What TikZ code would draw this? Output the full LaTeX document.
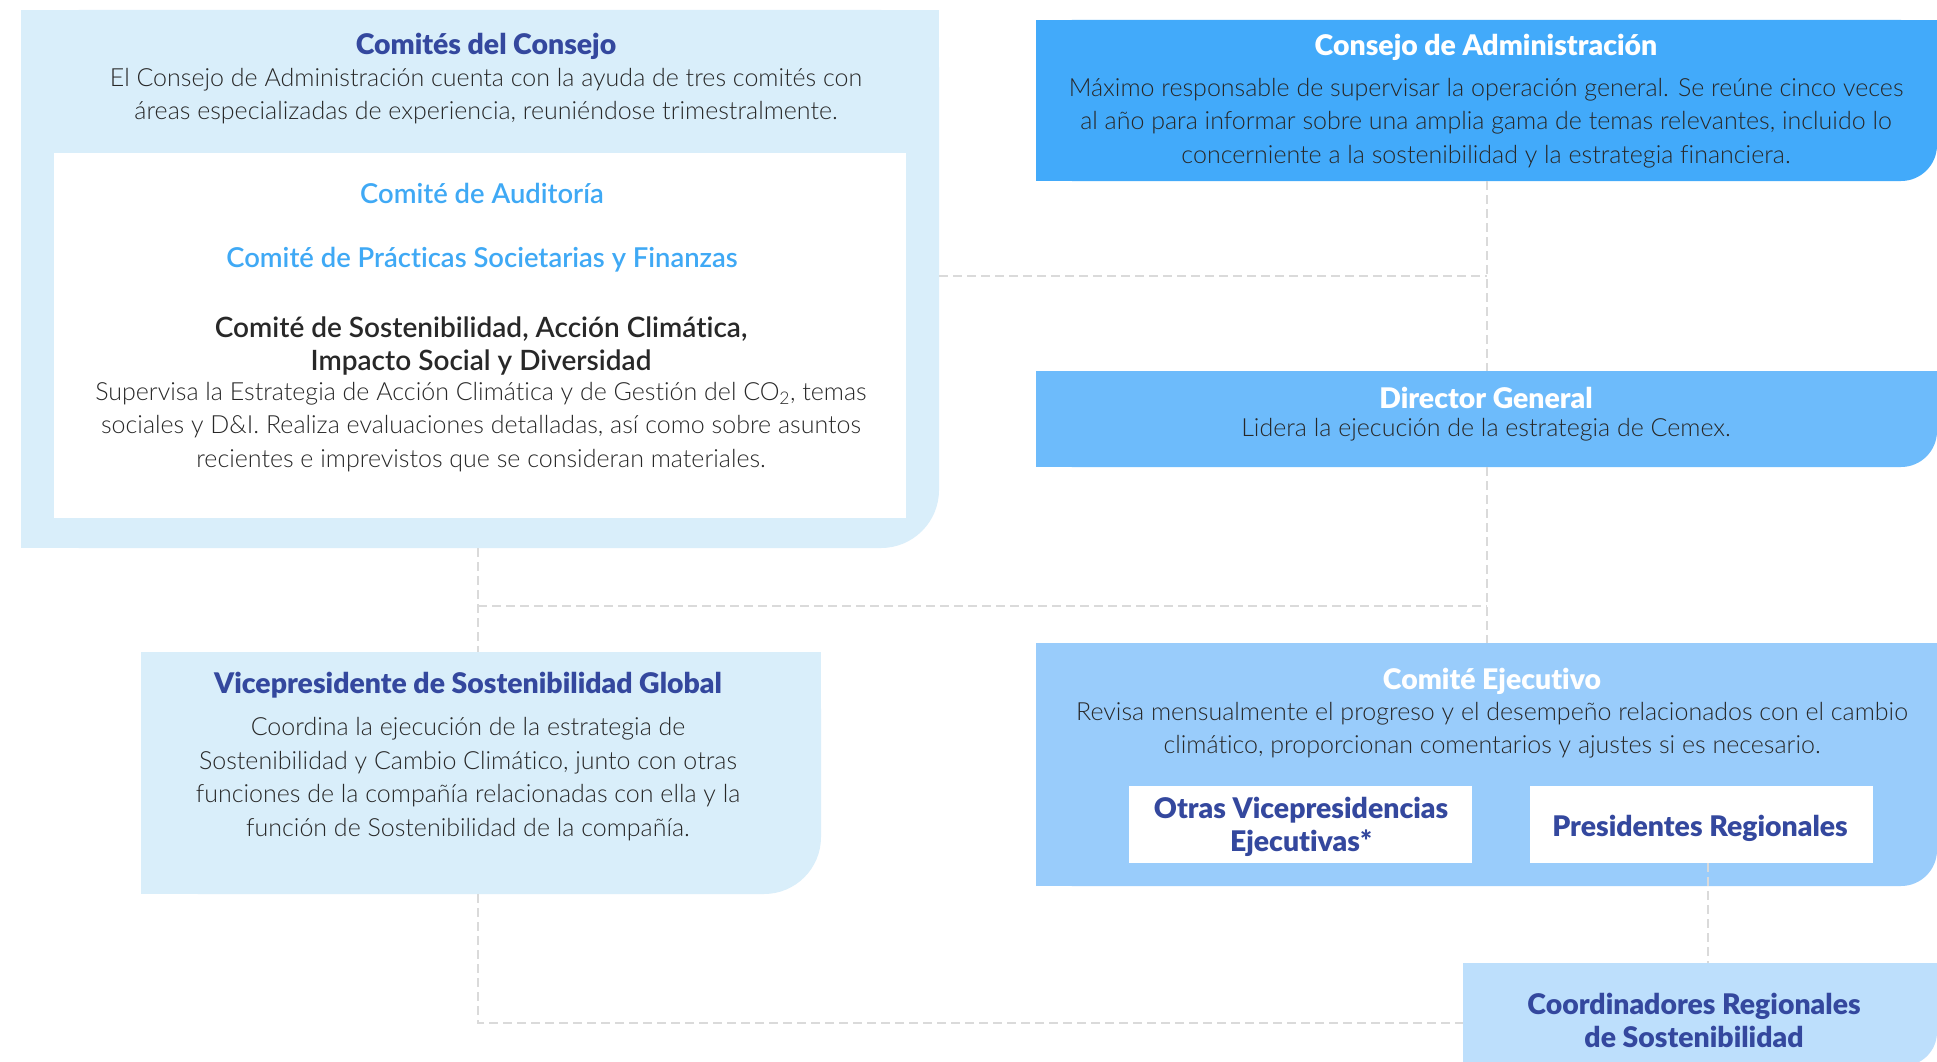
\documentclass[tikz,border=0pt]{standalone}
\usepackage{fontspec}
\setmainfont{Lato Light}[BoldFont={Lato Black},Ligatures=NoCommon]
\newfontfamily\semibfont{Lato Semibold}[Ligatures=NoCommon]
\definecolor{boxpale}{RGB}{217,238,250}
\definecolor{boxdeep}{RGB}{66,170,250}
\definecolor{boxmid}{RGB}{109,187,251}
\definecolor{boxlight}{RGB}{153,204,251}
\definecolor{boxcoord}{RGB}{189,223,252}
\definecolor{titleblue}{RGB}{52,72,158}
\definecolor{subblue}{RGB}{63,169,245}
\definecolor{bodygray}{RGB}{40,40,40}
\definecolor{dashgray}{RGB}{218,218,218}
\newcommand\rfill[3]{%
  \fill[#2,rounded corners=#3] (#1.north west) rectangle (#1.south east);
  \fill[#2] (#1.north west) rectangle ([xshift=-#3]#1.south east);
  \fill[#2] (#1.north west) rectangle ([yshift=#3]#1.south east);}
\begin{document}
\begin{tikzpicture}[x=1pt,y=-1pt,
  boxn/.style={draw=none,inner sep=0pt,outer sep=0pt,anchor=north west},
  titleB/.style={font=\fontsize{28.4}{33}\selectfont\bfseries,align=center,inner sep=0pt},
  bodyT/.style={font=\fontsize{25}{33.5}\selectfont,align=center,inner sep=0pt,text=bodygray},
  subT/.style={font=\fontsize{27.4}{33.5}\selectfont\semibfont,align=center,inner sep=0pt},
  dashline/.style={draw=dashgray,line width=2pt,dash pattern=on 9pt off 5pt}]
\useasboundingbox (0,0) rectangle (1937,1062);
\clip (0,0) rectangle (1937,1062);
\fill[white] (0,0) rectangle (1937,1062);

% boxes
\node[boxn,minimum width=918pt,minimum height=538pt] (comites) at (21,10) {};
\rfill{comites}{boxpale}{58pt}
\node[boxn,minimum width=852pt,minimum height=365pt,fill=white] (inner) at (54,153) {};
\node[boxn,minimum width=901pt,minimum height=161pt] (consejo) at (1036,20) {};
\rfill{consejo}{boxdeep}{36pt}
\node[boxn,minimum width=901pt,minimum height=96pt] (director) at (1036,371) {};
\rfill{director}{boxmid}{36pt}
\node[boxn,minimum width=901pt,minimum height=243pt] (ejecutivo) at (1036,643) {};
\rfill{ejecutivo}{boxlight}{36pt}
\node[boxn,minimum width=343pt,minimum height=77pt,fill=white] (otras) at (1129,786) {};
\node[boxn,minimum width=343pt,minimum height=77pt,fill=white] (pres) at (1530,786) {};
\node[boxn,minimum width=680pt,minimum height=242pt] (vp) at (141,652) {};
\rfill{vp}{boxpale}{57pt}
\node[boxn,minimum width=474pt,minimum height=103pt] (coord) at (1463,963) {};
\rfill{coord}{boxcoord}{34pt}

% connectors
\coordinate (lx) at (478,0);
\coordinate (px) at (1708,0);
\path (consejo.south) ++(0,95) coordinate (jTop);
\path (director.south) ++(0,139) coordinate (jMid);
\coordinate (jBot) at (478,1023);
\draw[dashline] (consejo.south) -- (director.north);
\draw[dashline] (comites.east |- jTop) -- (jTop);
\draw[dashline] (director.south) -- (ejecutivo.north);
\draw[dashline] (comites.south -| lx) -- (vp.north -| lx);
\draw[dashline] (jMid -| lx) -- (jMid);
\draw[dashline] (vp.south -| lx) |- (coord.west |- jBot);
\draw[dashline] (pres.south -| px) -- (coord.north -| px);

% texts
\node[titleB,text=titleblue] (tComites) at (486,46.5) {Comités del Consejo};
\node[bodyT] (bComites) at (486,96) {El Consejo de Administración cuenta con la ayuda de tres comités con\\áreas especializadas de experiencia, reuniéndose trimestralmente.};
\node[subT,text=subblue] (tAud) at (482,193) {Comité de Auditoría};
\node[subT,text=subblue] (tPrac) at (482,260) {Comité de Prácticas Societarias y Finanzas};
\node[subT,text=bodygray,font=\fontsize{28}{33.5}\selectfont\semibfont] (tSost) at (481,346) {Comité de Sostenibilidad, Acción Climática,\\Impacto Social y Diversidad};
\node[bodyT] (bSost) at (481,427) {Supervisa la Estrategia de Acción Climática y de Gestión del CO\textsubscript{2}, temas\\sociales y D\&I. Realiza evaluaciones detalladas, así como sobre asuntos\\recientes e imprevistos que se consideran materiales.};

\node[titleB,text=white] (tConsejo) at (1486,47) {Consejo de Administración};
\node[bodyT] (bConsejo) at (1486,123) {Máximo responsable de supervisar la operación general. Se reúne cinco veces\\al año para informar sobre una amplia gama de temas relevantes, incluido lo\\concerniente a la sostenibilidad y la estrategia financiera.};

\node[titleB,text=white] (tDirector) at (1486,398) {Director General};
\node[bodyT] (bDirector) at (1486,430) {Lidera la ejecución de la estrategia de Cemex.};

\node[titleB,text=white] (tEjec) at (1492,681.5) {Comité Ejecutivo};
\node[bodyT] (bEjec) at (1492,730) {Revisa mensualmente el progreso y el desempeño relacionados con el cambio\\climático, proporcionan comentarios y ajustes si es necesario.};

\node[titleB,text=titleblue] (tOtras) at (1301,827) {Otras Vicepresidencias\\Ejecutivas*};
\node[titleB,text=titleblue] (tPres) at (1700,828.5) {Presidentes Regionales};

\node[titleB,text=titleblue] (tVP) at (468,685.5) {Vicepresidente de Sostenibilidad Global};
\node[bodyT] (bVP) at (468,779) {Coordina la ejecución de la estrategia de\\Sostenibilidad y Cambio Climático, junto con otras\\funciones de la compañía relacionadas con ella y la\\función de Sostenibilidad de la compañía.};

\node[titleB,text=titleblue] (tCoord) at (1694,1020) {Coordinadores Regionales\\de Sostenibilidad};
\end{tikzpicture}
\end{document}
